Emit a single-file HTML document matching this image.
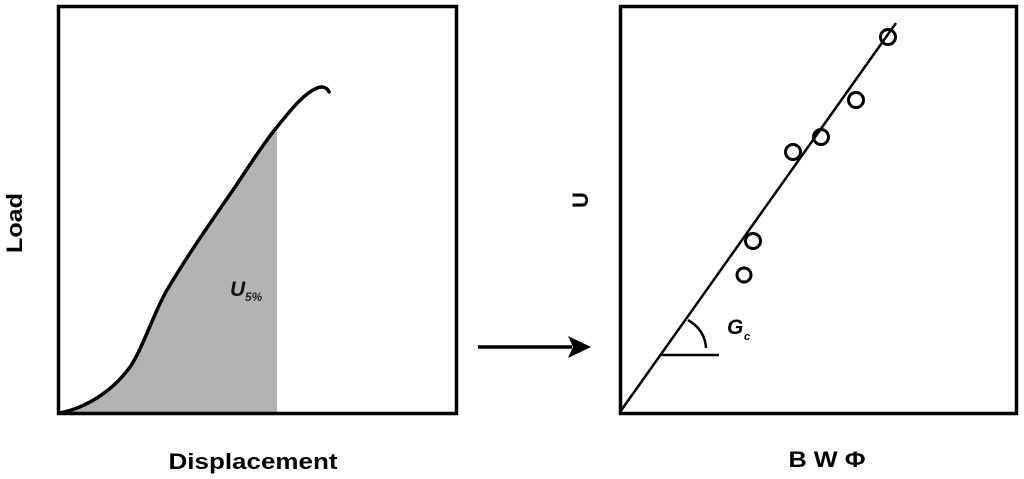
<!DOCTYPE html>
<html><head><meta charset="utf-8"><style>
html,body{margin:0;padding:0;background:#fff;}
svg{display:block;}
text{font-family:"Liberation Sans",Arial,sans-serif;}
</style></head><body>
<svg width="1024" height="479" viewBox="0 0 1024 479" xmlns="http://www.w3.org/2000/svg">
<path d="M60,413 C85,408 112,392 130,367 C142,350 155,310 167,290 C189,253 211,222 233,190 C248,168 262,145 277,127 L277,413 Z" fill="#b3b3b3"/>
<path d="M60,413 C85,408 112,392 130,367 C142,350 155,310 167,290 C189,253 211,222 233,190 C248,168 262,145 277,127 C290,111 303,94 317,88 C322,86 327,87 329,92" fill="none" stroke="#000" stroke-width="3.5" stroke-linecap="round"/>
<rect x="58.5" y="6.5" width="398" height="407" fill="none" stroke="#000" stroke-width="3.5"/>
<text x="230" y="296" font-size="21" font-weight="bold" font-style="italic" fill="#111">U</text>
<text x="245" y="301" font-size="12" font-style="italic" font-weight="bold" fill="#222">5%</text>
<text x="253" y="469" font-size="22" font-weight="bold" text-anchor="middle" textLength="169" lengthAdjust="spacingAndGlyphs">Displacement</text>
<text transform="translate(22,223) rotate(-90)" font-size="22" font-weight="bold" text-anchor="middle" textLength="60" lengthAdjust="spacingAndGlyphs">Load</text>
<line x1="478" y1="347" x2="572" y2="347" stroke="#000" stroke-width="3.5"/>
<path d="M591,347 L568,336 L573,347 L568,358 Z" fill="#000"/>
<rect x="620.5" y="6.5" width="396" height="407" fill="none" stroke="#000" stroke-width="3.5"/>
<line x1="620" y1="412" x2="896" y2="23" stroke="#000" stroke-width="2.5"/>
<g fill="none" stroke="#000" stroke-width="3">
<circle cx="888" cy="37" r="7.5"/>
<circle cx="856" cy="100" r="7.5"/>
<circle cx="821" cy="137" r="7.5"/>
<circle cx="793" cy="152" r="7.5"/>
<circle cx="753" cy="241" r="7.5"/>
<circle cx="744" cy="275" r="7"/>
</g>
<line x1="660" y1="355" x2="719" y2="355" stroke="#000" stroke-width="2.5"/>
<path d="M688,320 Q705,330 706,348" fill="none" stroke="#000" stroke-width="2.5"/>
<text x="727" y="334" font-size="21" font-weight="bold" font-style="italic">G</text>
<text x="744" y="340" font-size="11" font-weight="bold" font-style="italic">c</text>
<text transform="translate(588,200) rotate(-90)" font-size="22" font-weight="bold" text-anchor="middle">U</text>
<text x="827" y="467" font-size="22" font-weight="bold" text-anchor="middle" textLength="77" lengthAdjust="spacingAndGlyphs">B W Φ</text>
</svg>
</body></html>
